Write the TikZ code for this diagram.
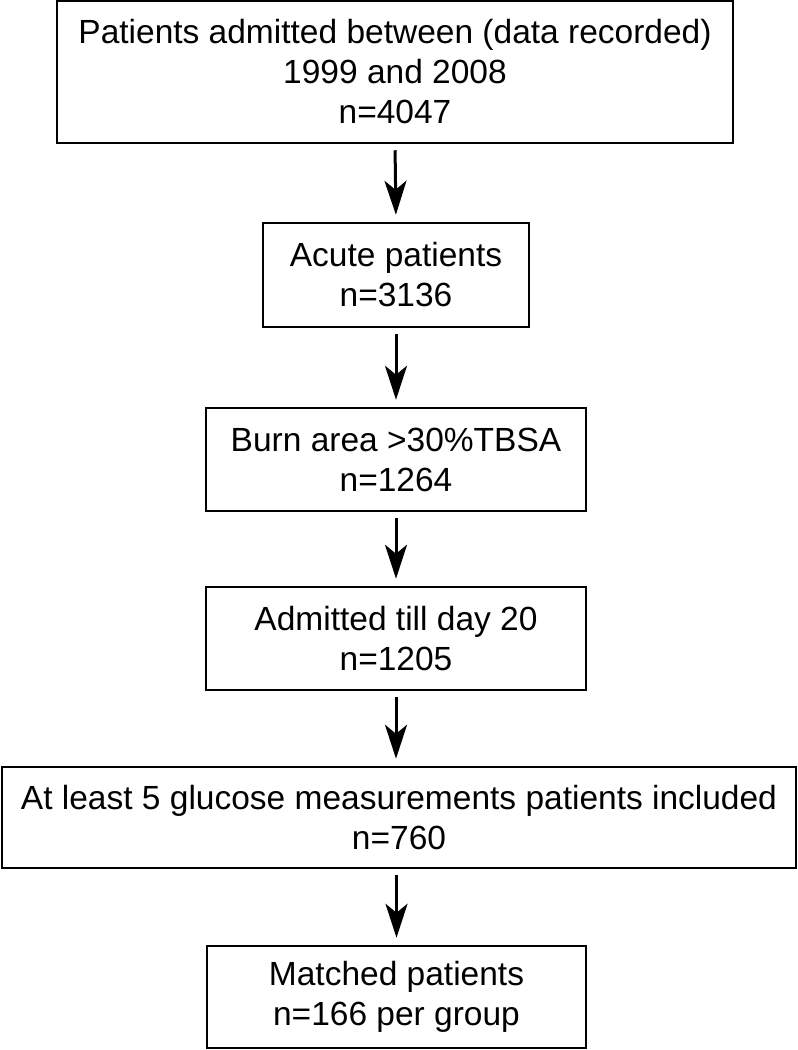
\documentclass[tikz,border=0pt]{standalone}
\usepackage{fontspec}
\setmainfont{Liberation Sans}
\usetikzlibrary{arrows.meta}
\begin{document}
\begin{tikzpicture}[x=1pt,y=-1pt,
  box/.style={draw=black, line width=2.5pt, inner sep=0pt, align=center,
    font=\fontsize{33.5}{40}\selectfont},
  flow/.style={line width=3pt, -{Stealth[length=34pt,width=22pt,inset=9pt]},
    shorten <=6pt, shorten >=7pt}]
\useasboundingbox (0,0) rectangle (798,1050);
\node[box, minimum width=676pt, minimum height=142pt] (b1) at (395,72)
  {Patients admitted between (data recorded)\\1999 and 2008\\n=4047};
\node[box, minimum width=266pt, minimum height=104pt] (b2) at (396,275)
  {Acute patients\\n=3136};
\node[box, minimum width=380pt, minimum height=103pt] (b3) at (396,459.5)
  {Burn area >30\%TBSA\\n=1264};
\node[box, minimum width=380pt, minimum height=103pt] (b4) at (396,638.5)
  {Admitted till day 20\\n=1205};
\node[box, minimum width=794pt, minimum height=101pt] (b5) at (399,817.5)
  {At least 5 glucose measurements patients included\\n=760};
\node[box, minimum width=379pt, minimum height=102pt] (b6) at (396.5,997)
  {Matched patients\\n=166 per group};
\draw[flow] (b1.south) -- (b2.north);
\draw[flow] (b2.south) -- (b3.north);
\draw[flow] (b3.south) -- (b4.north);
\draw[flow] (b4.south) -- (b5.north -| b4.south);
\draw[flow] (b5.south -| b6.north) -- (b6.north);
\end{tikzpicture}
\end{document}
